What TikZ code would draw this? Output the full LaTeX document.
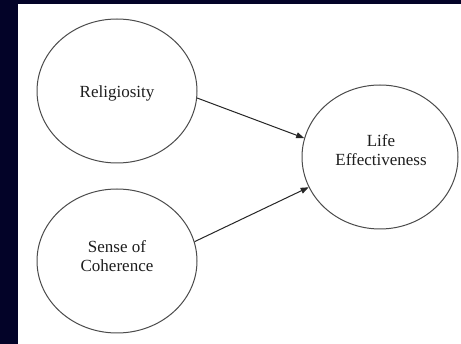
\documentclass[tikz,border=0pt]{standalone}
\usepackage{fontspec}
\setmainfont{Liberation Serif}
\usetikzlibrary{shapes.geometric,arrows.meta}
\definecolor{navy}{RGB}{3,3,40}
\definecolor{rim}{RGB}{75,75,75}
\definecolor{txt}{RGB}{30,30,30}
\begin{document}
\begin{tikzpicture}[x=1pt,y=-1pt,
  oval/.style={ellipse,draw=rim,line width=1pt,inner sep=0pt,
    minimum width=160pt,minimum height=144pt},
  lbl/.style={align=center,inner sep=0pt,
    font=\fontsize{17}{19}\selectfont,text=txt},
  link/.style={draw=black!85,line width=1pt,-{Triangle[length=8pt,width=6pt]}}]
\fill[navy] (0,0) rectangle (461,344);
\fill[white] (18,4) rectangle (461,344);
\useasboundingbox (0,0) rectangle (461,344);
\node[oval] (rel) at (117,91) {};
\node[oval] (soc) at (117,261) {};
\node[oval,minimum width=156pt] (life) at (380,157) {};
\node[lbl] (reltext) at (117,93) {Religiosity};
\node[lbl] (soctext) at (117,256) {Sense of\\Coherence};
\node[lbl] (lifetext) at (381,150) {Life\\Effectiveness};
\draw[link] (rel.-5) -- (life.166);
\draw[link] (soc.14) -- (life.203);
\end{tikzpicture}
\end{document}
